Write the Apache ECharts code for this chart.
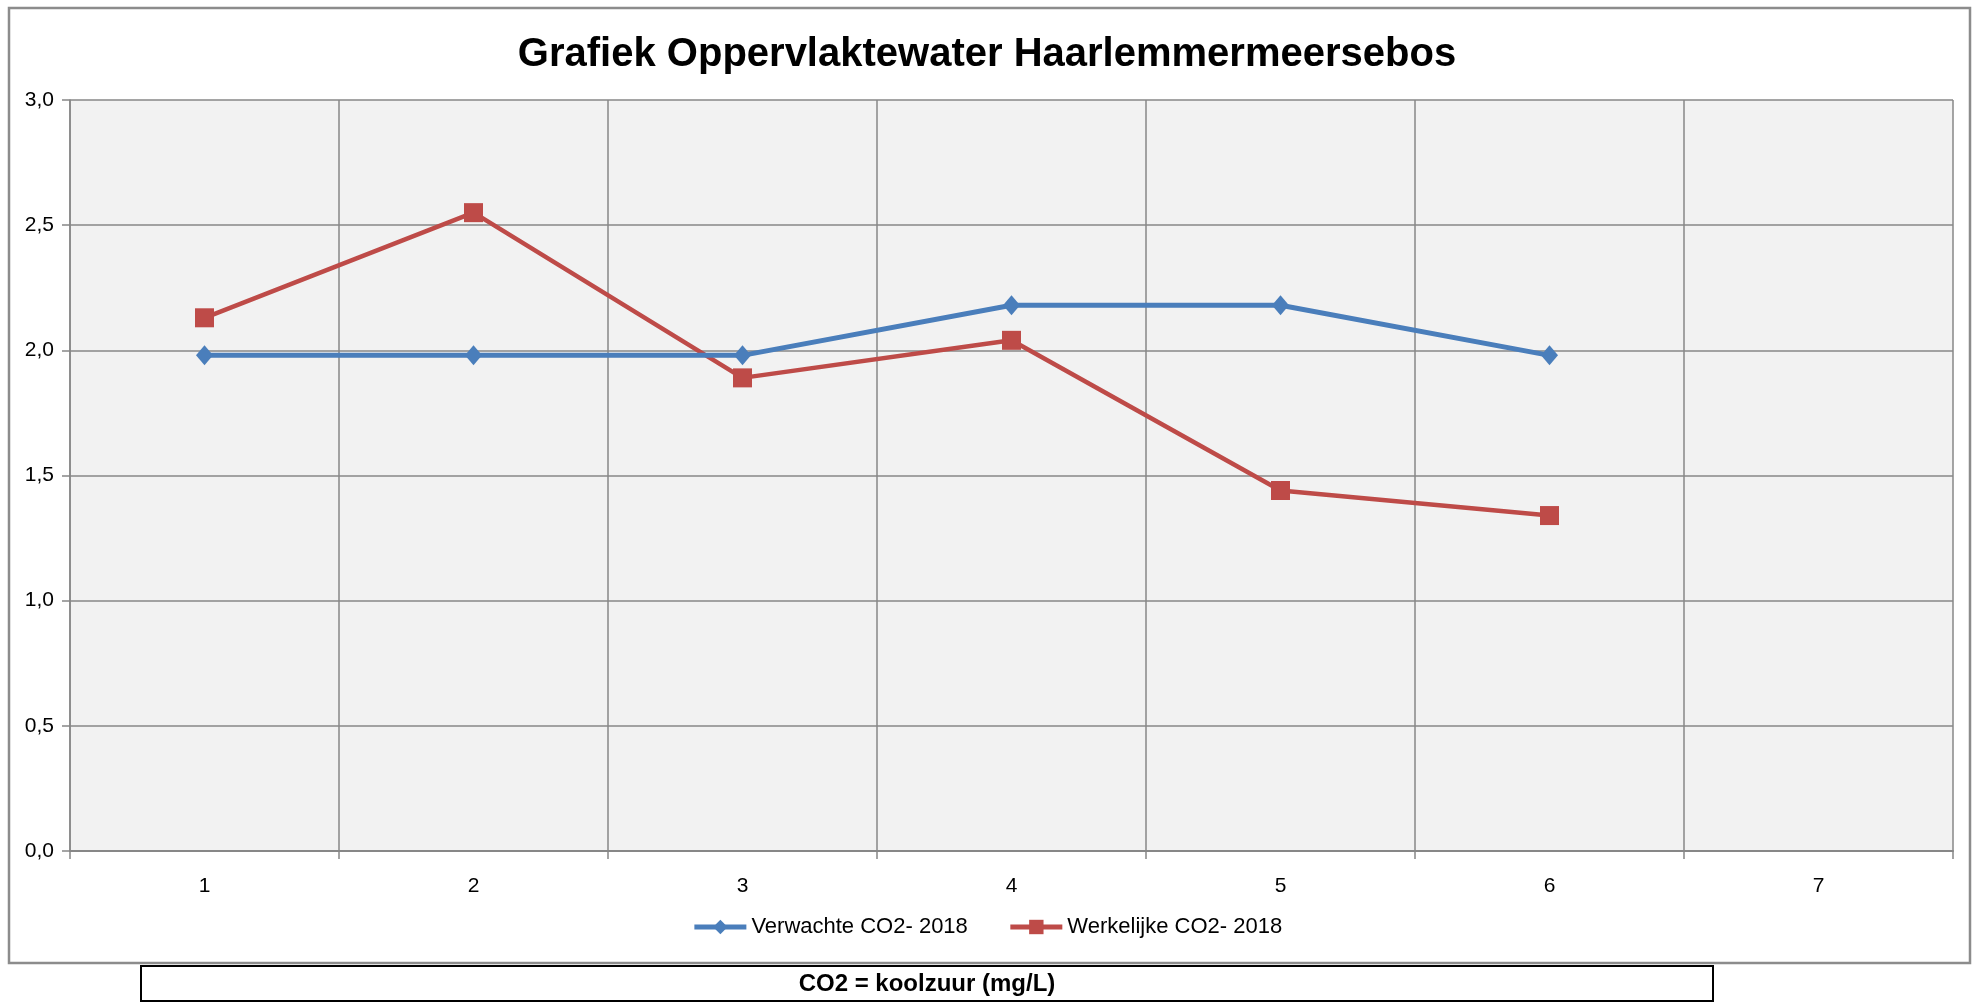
<!DOCTYPE html>
<html>
<head>
<meta charset="utf-8">
<title>Grafiek Oppervlaktewater Haarlemmermeersebos</title>
<script src="https://cdn.jsdelivr.net/npm/echarts@6/dist/echarts.min.js"></script>
<style>
  html, body { margin: 0; padding: 0; background: #fff; }
  #chart { width: 1974px; height: 1002px; }
</style>
</head>
<body>
<div id="chart"></div>
<script>
// metingen per ronde
const categories = ['1', '2', '3', '4', '5', '6', '7']
const verwacht = [1.98, 1.98, 1.98, 2.18, 2.18, 1.98, null]
const werkelijk = [2.13, 2.55, 1.89, 2.04, 1.44, 1.34, null]

const gridColor = '#878787'
const fontFam = '"Liberation Sans", Arial, sans-serif'

const chart = echarts.init(document.getElementById('chart'))

chart.setOption({
  animation: false,
  backgroundColor: '#fff',
  title: {
    text: 'Grafiek Oppervlaktewater Haarlemmermeersebos',
    left: 'center',
    top: 30,
    textStyle: { fontSize: 40, fontWeight: 'bold', color: '#000', fontFamily: fontFam }
  },
  grid: {
    left: 70, right: 21, top: 100, bottom: 151,
    show: true, backgroundColor: '#f2f2f2', borderWidth: 0
  },
  legend: {
    top: 911,
    left: 'center',
    itemWidth: 52,
    itemHeight: 18,
    itemGap: 40,
    lineStyle: { width: 5 },
    textStyle: { fontSize: 22, color: '#000', fontFamily: fontFam },
    data: ['Verwachte CO2- 2018', 'Werkelijke CO2- 2018']
  },
  xAxis: {
    type: 'category',
    data: categories,
    boundaryGap: true,
    axisLine: { show: true, lineStyle: { color: gridColor, width: 2 } },
    axisTick: { show: true, length: 8, lineStyle: { color: gridColor, width: 1.5 } },
    axisLabel: { fontSize: 21, color: '#000', margin: 25, fontFamily: fontFam },
    splitLine: { show: true, lineStyle: { color: gridColor, width: 1.5 } }
  },
  yAxis: {
    type: 'value',
    min: 0,
    max: 3,
    interval: 0.5,
    axisLine: { show: true, lineStyle: { color: gridColor, width: 1.5 } },
    axisTick: { show: true, length: 8, lineStyle: { color: gridColor, width: 1.5 } },
    axisLabel: {
      fontSize: 21, color: '#000', margin: 16, fontFamily: fontFam,
      formatter: v => v.toFixed(1).replace('.', ',')
    },
    splitLine: { show: true, lineStyle: { color: gridColor, width: 1.5 } }
  },
  series: [
    {
      name: 'Verwachte CO2- 2018',
      type: 'line',
      data: verwacht,
      symbol: 'diamond',
      symbolSize: [17, 20],
      itemStyle: { color: '#4a7ebb' },
      lineStyle: { color: '#4a7ebb', width: 5 },
      z: 3
    },
    {
      name: 'Werkelijke CO2- 2018',
      type: 'line',
      data: werkelijk,
      symbol: 'rect',
      symbolSize: 19,
      itemStyle: { color: '#be4b48' },
      lineStyle: { color: '#be4b48', width: 4.5 },
      z: 2
    }
  ],
  graphic: [
    // kader rond de grafiek
    {
      type: 'rect',
      shape: { x: 9, y: 8, width: 1961, height: 955 },
      style: { fill: 'none', stroke: '#8c8c8c', lineWidth: 2.5 },
      silent: true,
      z: -1
    },
    // onderschrift
    {
      type: 'rect',
      shape: { x: 141, y: 966, width: 1572, height: 35 },
      style: { fill: '#fff', stroke: '#000', lineWidth: 2 },
      silent: true
    },
    {
      type: 'text',
      x: 927,
      y: 984,
      style: {
        text: 'CO2 = koolzuur (mg/L)',
        fontSize: 24,
        fontWeight: 'bold',
        fontFamily: fontFam,
        fill: '#000',
        align: 'center',
        verticalAlign: 'middle'
      },
      silent: true
    }
  ]
})

window.addEventListener('resize', () => chart && chart.resize())
</script>
</body>
</html>
